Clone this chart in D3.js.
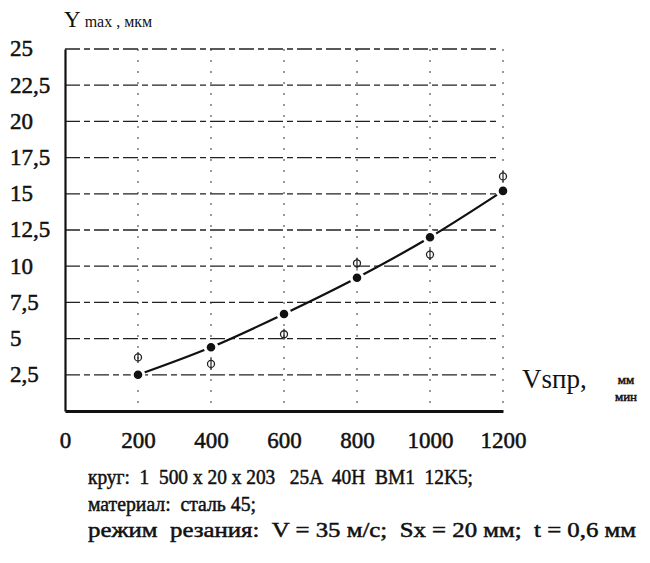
<!DOCTYPE html>
<html>
<head>
<meta charset="utf-8">
<script src="https://cdn.jsdelivr.net/npm/d3@7"></script>
<style>
  body { margin: 0; background: #fff; }
  svg text { font-family: "Liberation Serif", "Times New Roman", serif; fill: #111; white-space: pre; }
  svg text.heavy { stroke: #111; stroke-width: 0.5px; }
</style>
</head>
<body>
<script>
'use strict';

// chart data
const speeds = [200, 400, 600, 800, 1000, 1200];          // Vsпр, мм/мин
const yCalc = [2.5, 4.4, 6.7, 9.2, 12.0, 15.2];           // filled points + curve
const yExp = [3.7, 3.25, 5.3, 10.2, 10.8, 16.2];          // experimental points
const xTicks = [0, 200, 400, 600, 800, 1000, 1200];
const yTicks = [2.5, 5, 7.5, 10, 12.5, 15, 17.5, 20, 22.5, 25];
const captionLines = [
  "круг:  1  500 x 20 x 203   25A  40H  BM1  12K5;",
  "материал:  сталь 45;",
  "режим  резания:  V = 35 м/с;  Sx = 20 мм;  t = 0,6 мм"
];
const captionWidths = [385, 168, 548];

(function() {

  let svgContainer = "";
  const serif = '"Liberation Serif", "Times New Roman", serif';

  window.onload = function() {
    svgContainer = d3.select('body')
      .append('svg')
      .attr('width', 650)
      .attr('height', 563);

    let map = drawAxes();
    plotData(map);
    makeLabels();
  }

  // comma as decimal separator
  function fmt(d) { return String(d).replace('.', ','); }

  // axes, grid and tick labels
  function drawAxes() {
    let xScale = d3.scaleLinear().domain([0, 1200]).range([65, 503]);
    let yScale = d3.scaleLinear().domain([0, 25]).range([411, 49]);

    // horizontal dashed grid
    svgContainer.append('g').selectAll('line')
      .data(yTicks)
      .enter()
      .append('line')
        .attr('x1', xScale(0))
        .attr('x2', xScale(1200) - 4)
        .attr('y1', (d) => yScale(d))
        .attr('y2', (d) => yScale(d))
        .attr('stroke', '#222')
        .attr('stroke-width', 1.3)
        .attr('stroke-dasharray', '15,4,6,4');

    // vertical sparse grid
    svgContainer.append('g').selectAll('line')
      .data(xTicks.slice(1))
      .enter()
      .append('line')
        .attr('x1', (d) => xScale(d))
        .attr('x2', (d) => xScale(d))
        .attr('y1', yScale(25))
        .attr('y2', yScale(0))
        .attr('stroke', '#333')
        .attr('stroke-width', 1)
        .attr('stroke-dasharray', '2,9');

    // x axis
    let xAxis = d3.axisBottom(xScale)
      .tickValues(xTicks)
      .tickFormat(fmt)
      .tickSize(0);
    let gx = svgContainer.append('g')
      .attr('transform', 'translate(0, 411)')
      .call(xAxis)
      .attr('font-family', serif);
    gx.select('.domain').attr('stroke', '#111').attr('stroke-width', 3);
    gx.selectAll('text')
      .attr('class', 'heavy')
      .attr('y', 37)
      .attr('dy', 0)
      .style('font-family', serif)
      .style('font-size', '23px');

    // y axis
    let yAxis = d3.axisLeft(yScale)
      .tickValues(yTicks)
      .tickFormat(fmt)
      .tickSize(0);
    let gy = svgContainer.append('g')
      .attr('transform', 'translate(65, 0)')
      .call(yAxis)
      .attr('font-family', serif);
    gy.select('.domain').attr('stroke', '#111').attr('stroke-width', 2.2);
    gy.selectAll('text')
      .attr('class', 'heavy')
      .attr('x', -55)
      .attr('dy', '0.3em')
      .attr('text-anchor', 'start')
      .style('font-family', serif)
      .style('font-size', '23px');

    return { x: xScale, y: yScale };
  }

  // curve, filled points and experimental points
  function plotData(map) {
    let rows = speeds.map((s, i) => ({ v: s, calc: yCalc[i], exp: yExp[i] }));

    let line = d3.line()
      .x((d) => map.x(d.v))
      .y((d) => map.y(d.calc))
      .curve(d3.curveMonotoneX);

    svgContainer.append('path')
      .datum(rows)
      .attr('d', line)
      .attr('fill', 'none')
      .attr('stroke', '#111')
      .attr('stroke-width', 2.2);

    // experimental points: small circle crossed by a vertical stroke
    let exp = svgContainer.selectAll('.exp')
      .data(rows)
      .enter()
      .append('g')
        .attr('class', 'exp')
        .attr('transform', (d) => 'translate(' + map.x(d.v) + ',' + map.y(d.exp) + ')');
    exp.append('circle')
      .attr('r', 3.5)
      .attr('fill', 'none')
      .attr('stroke', '#222')
      .attr('stroke-width', 1.3);
    exp.append('line')
      .attr('y1', -5.5)
      .attr('y2', 5.5)
      .attr('stroke', '#222')
      .attr('stroke-width', 1.2);

    // calculated points, white ring breaks the curve around each dot
    svgContainer.selectAll('.point')
      .data(rows)
      .enter()
      .append('circle')
        .attr('class', 'point')
        .attr('cx', (d) => map.x(d.v))
        .attr('cy', (d) => map.y(d.calc))
        .attr('r', 5.8)
        .attr('fill', '#111')
        .attr('stroke', '#fff')
        .attr('stroke-width', 3);
  }

  // axis titles and caption
  function makeLabels() {
    let yTitle = svgContainer.append('text')
      .attr('x', 64)
      .attr('y', 27);
    yTitle.append('tspan')
      .style('font-size', '23px')
      .text('Y');
    yTitle.append('tspan')
      .attr('class', 'heavy')
      .style('font-size', '16px')
      .text(' max , мкм');

    svgContainer.append('text')
      .attr('x', 522)
      .attr('y', 388)
      .style('font-size', '27px')
      .text('Vsпр,');

    svgContainer.append('text')
      .attr('class', 'heavy')
      .attr('x', 626)
      .attr('y', 384)
      .attr('text-anchor', 'middle')
      .style('font-size', '13px')
      .text('мм');

    svgContainer.append('text')
      .attr('class', 'heavy')
      .attr('x', 626)
      .attr('y', 401)
      .attr('text-anchor', 'middle')
      .style('font-size', '13px')
      .text('мин');

    // scanned caption text is tall and narrow: fit glyphs to the measured widths
    svgContainer.selectAll('.caption')
      .data(captionLines)
      .enter()
      .append('text')
        .attr('class', 'caption heavy')
        .attr('x', 88)
        .attr('y', (d, i) => 484 + i * 26.5)
        .attr('textLength', (d, i) => captionWidths[i])
        .attr('lengthAdjust', 'spacingAndGlyphs')
        .style('font-size', '21px')
        .text((d) => d);
  }

})();
</script>
</body>
</html>
